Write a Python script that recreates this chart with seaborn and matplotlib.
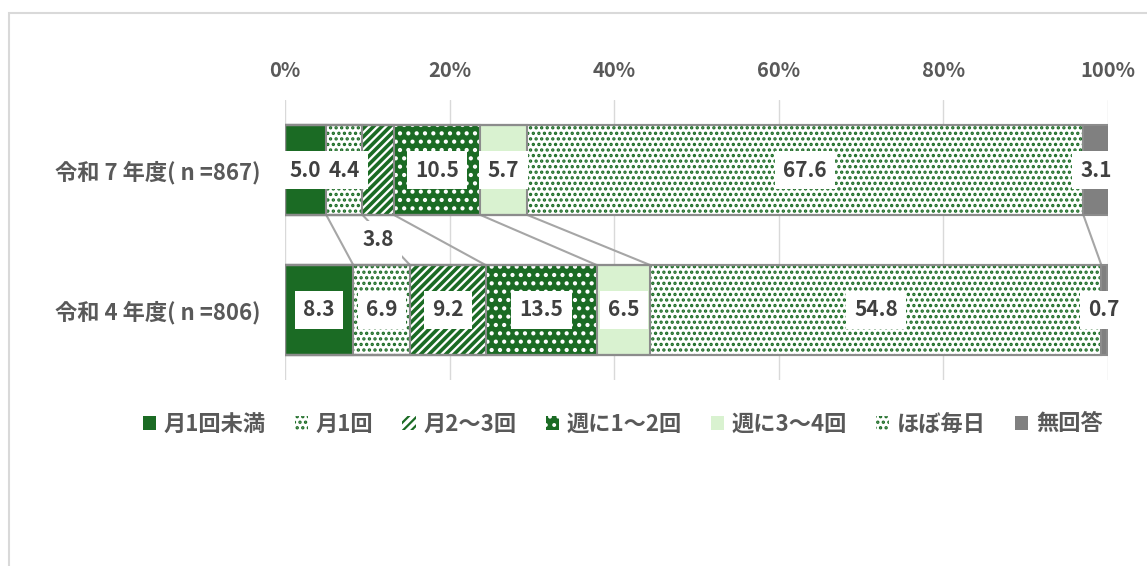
import numpy as np
import pandas as pd
import matplotlib
matplotlib.use("Agg")
import matplotlib.pyplot as plt
import seaborn as sns
from matplotlib.patches import Patch, Rectangle

# データ
years = ["令和 7 年度( n =867)", "令和 4 年度( n =806)"]
categories = ["月1回未満", "月1回", "月2～3回", "週に1～2回", "週に3～4回", "ほぼ毎日", "無回答"]
r7 = [5.0, 4.4, 3.8, 10.5, 5.7, 67.6, 3.1]
r4 = [8.3, 6.9, 9.2, 13.5, 6.5, 54.8, 0.7]
ticks = [0, 20, 40, 60, 80, 100]

GREEN = "#1b6b24"
LIGHT = "#d9f2d0"
GRAY = "#808080"
TXT = "#595959"
# (塗り, ハッチ, ハッチ色, ハッチ線幅)
styles = [
    (GREEN, "", GREEN, 1.6),
    ("white", "...", GREEN, 1.6),
    ("white", "////", GREEN, 2.6),
    (GREEN, "..", "white", 1.8),
    (LIGHT, "", LIGHT, 1.6),
    ("white", "...", GREEN, 1.6),
    (GRAY, "", GRAY, 1.6),
]

sns.set_theme(style="white")
plt.rcParams["font.family"] = ["Noto Sans CJK JP", "DejaVu Sans"]
plt.rcParams["hatch.linewidth"] = 1.6

df = pd.DataFrame({
    "year": np.repeat(years, len(categories)),
    "cat": categories * 2,
    "value": r7 + r4,
})
df["cum"] = df.groupby("year", sort=False)["value"].cumsum()
df["mid"] = df["cum"] - df["value"] / 2

fig = plt.figure(figsize=(11.47, 5.66), dpi=100)
ax = fig.add_axes([0.2485, 0.329, 0.7175, 0.494])
BAR_H = 0.64

# 累積値を長い順に重ねて描く
for i in range(len(categories) - 1, -1, -1):
    fc, hatch, hc, hlw = styles[i]
    sub = df[df["cat"] == categories[i]]
    n = len(ax.patches)
    with plt.rc_context({"hatch.linewidth": hlw}):
        sns.barplot(data=sub, x="cum", y="year", order=years, orient="h",
                    color=fc, saturation=1, width=BAR_H, ax=ax)
        for p in ax.patches[n:]:
            p.set_facecolor(fc)
            p.set_hatch(hatch)
            p.set_edgecolor(hc)
            p.set_linewidth(0)
            p.set_zorder(2)
    n = len(ax.patches)
    sns.barplot(data=sub, x="cum", y="year", order=years, orient="h",
                color=fc, saturation=1, width=BAR_H, ax=ax)
    for p in ax.patches[n:]:
        p.set_facecolor("none")
        p.set_hatch(None)
        p.set_edgecolor("#8c8c8c")
        p.set_linewidth(1.5)
        p.set_zorder(3)

# 区分線
cum7 = df[df["year"] == years[0]]["cum"].to_numpy()
cum4 = df[df["year"] == years[1]]["cum"].to_numpy()
for a, b in zip(cum7[:-1], cum4[:-1]):
    ax.plot([a, b], [BAR_H / 2, 1 - BAR_H / 2], color="#a6a6a6", lw=1.5, zorder=1.5)

# データラベル
for _, row in df.iterrows():
    ypos = years.index(row["year"])
    if row["year"] == years[0] and row["cat"] == "月2～3回":
        ypos = 0.5
    ax.text(row["mid"], ypos, f"{row['value']:.1f}", ha="center", va="center",
            fontsize=15, fontweight="bold", color="#404040", zorder=6,
            bbox=dict(boxstyle="square,pad=0.4", fc="white", ec="none"))

ax.set_xlim(0, 100)
ax.set_ylim(1.5, -0.5)
ax.xaxis.tick_top()
ax.set_xticks(ticks)
ax.set_xticklabels([f"{t}%" for t in ticks], fontsize=14.5, fontweight="bold", color=TXT)
ax.set_yticks([0, 1])
ax.set_yticklabels(years, fontsize=16, fontweight="bold", color=TXT)
ax.tick_params(axis="x", length=0, pad=14)
ax.tick_params(axis="y", length=0, pad=18)
ax.set_xlabel("")
ax.set_ylabel("")
ax.grid(axis="x", color="#d9d9d9", lw=1)
ax.grid(axis="y", visible=False)
ax.set_axisbelow(True)
for s in ax.spines.values():
    s.set_visible(False)

handles = [Patch(facecolor=fc, hatch=h, edgecolor=hc, lw=0) for fc, h, hc, _ in styles]
fig.legend(handles, categories, loc="center", bbox_to_anchor=(0.543, 0.251), ncol=7,
           frameon=False, prop=dict(weight="bold", size=16), labelcolor=TXT,
           handlelength=0.6, handleheight=0.6, handletextpad=0.35, columnspacing=1.3)

fig.patches.append(Rectangle((9 / 1147, -0.1), 1.2, 1 - 13 / 566 + 0.1,
                             transform=fig.transFigure, fill=False,
                             ec="#d9d9d9", lw=1.5))

fig.savefig("out.png", dpi=100)
